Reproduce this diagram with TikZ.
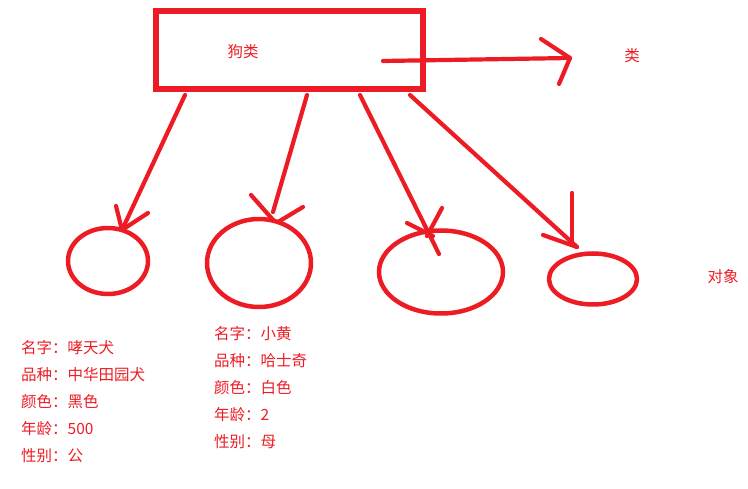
\documentclass[tikz,border=0pt]{standalone}
\usepackage{fontspec}
\setmainfont{Noto Sans CJK SC}
\usepackage{xcolor}
\usetikzlibrary{shapes.geometric, positioning}
\definecolor{paintred}{HTML}{ED1C24}

\tikzset{
    pen/.style={draw=paintred, line width=4.2pt, line cap=round, line join=round},
    obj/.style={ellipse, pen, line width=4.5pt, inner sep=0pt},
    lbl/.style={text=paintred, font=\fontsize{15.5}{16}\selectfont, inner sep=0pt, anchor=west}
}

\begin{document}
\begin{tikzpicture}[x=1pt, y=-1pt]
        \useasboundingbox (0,0) rectangle (748,489);

        % class box
        \node[pen, line width=5.5pt, line cap=butt, line join=miter, minimum width=267pt, minimum height=78pt, inner sep=0pt] (dog) at (289.5,50) {};
        \node[lbl, anchor=center] (dogname) at (243,52) {狗类};
        \node[lbl, anchor=center] (cls) at (632,56) {类};

        % objects
        \node[obj, minimum width=80pt, minimum height=66pt] (o1) at (108,261) {};
        \node[obj, minimum width=104pt, minimum height=88pt] (o2) at (259,263) {};
        \node[obj, minimum width=124pt, minimum height=83pt] (o3) at (441,272) {};
        \node[obj, minimum width=88pt, minimum height=51pt] (o4) at (593,279) {};
        \node[lbl, anchor=center] (objs) at (723,277) {对象};

        % arrow ends
        \coordinate (s0) at (383,61);
        \coordinate (t0) at (570,58);
        \coordinate (s1) at (185,95);
        \coordinate (t1) at (122,230);
        \coordinate (s2) at (307,95);
        \coordinate (t2) at (273,212);
        \coordinate (s3) at (360,95);
        \coordinate (t3) at (439,254);
        \coordinate (s4) at (410,95);
        \coordinate (t4) at (577,247);

        \draw[pen] (s0) -- (t0);
        \draw[pen] (541,39) -- (t0) -- (559,84);
        \draw[pen] (s1) -- (t1);
        \draw[pen] (116,206) -- (t1) -- (148,213);
        \draw[pen] (s2) -- (t2);
        \draw[pen] (251,195) -- (274,221);
        \draw[pen] (303,207) -- (278,222);
        \draw[pen] (s3) -- (t3);
        \draw[pen] (407,223) -- (433,236);
        \draw[pen] (442,208) -- (427,236);
        \draw[pen] (s4) -- (t4);
        \draw[pen] (572,193) -- (572,244);
        \draw[pen] (543,235) -- (t4);

        % attributes
        \node[lbl] (a1) at (21,348) {名字：哮天犬};
        \node[lbl] (a2) at (21,375) {品种：中华田园犬};
        \node[lbl] (a3) at (21,402) {颜色：黑色};
        \node[lbl] (a4) at (21,429) {年龄：500};
        \node[lbl] (a5) at (21,456) {性别：公};

        \node[lbl] (b1) at (214,334) {名字：小黄};
        \node[lbl] (b2) at (214,361) {品种：哈士奇};
        \node[lbl] (b3) at (214,388) {颜色：白色};
        \node[lbl] (b4) at (214,415) {年龄：2};
        \node[lbl] (b5) at (214,442) {性别：母};
    \end{tikzpicture}
\end{document}
